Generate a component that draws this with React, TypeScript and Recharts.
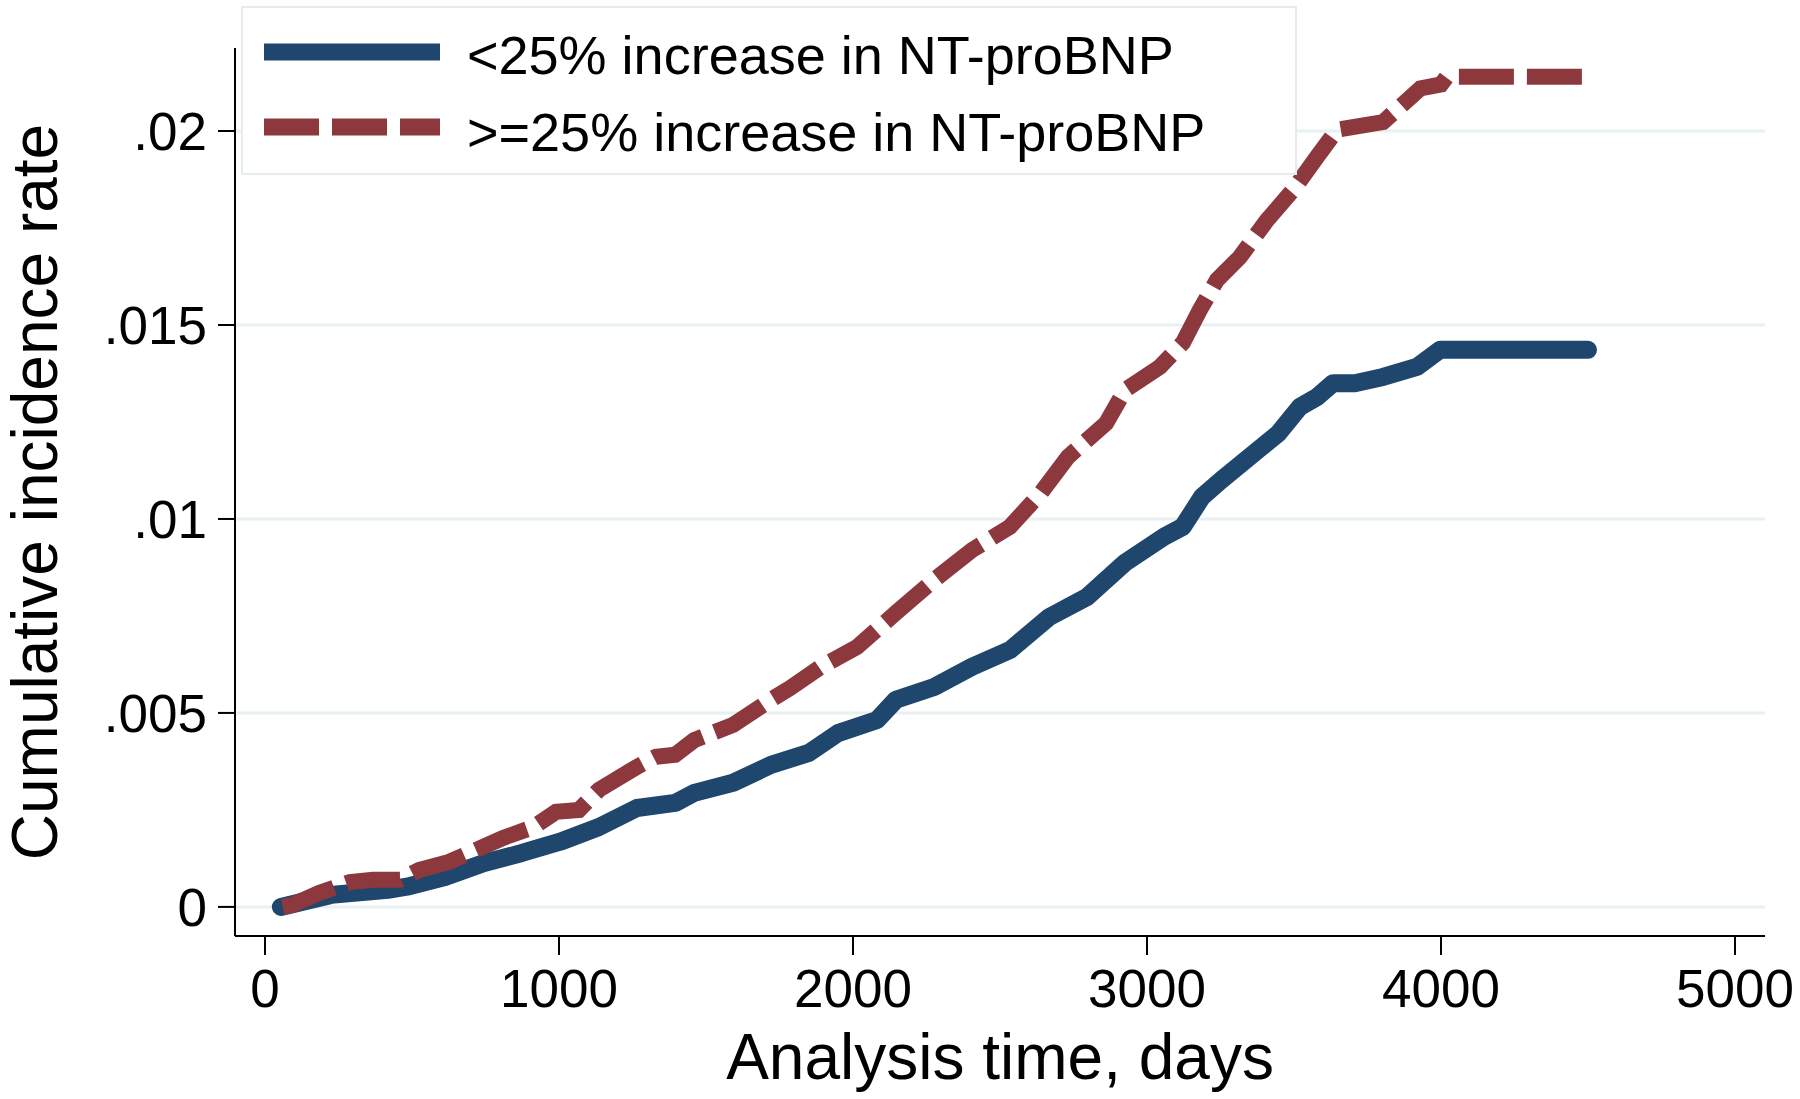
import React from 'react';
import { LineChart, Line, XAxis, YAxis, ReferenceLine } from 'recharts';

// <25% increase in NT-proBNP
const lowDays = [54, 225, 418, 483, 612, 745, 874, 1004, 1136, 1265, 1395, 1460, 1592, 1721, 1850, 1949, 2082, 2146, 2276, 2405, 2534, 2667, 2796, 2925, 3058, 3122, 3187, 3252, 3381, 3446, 3520, 3578, 3633, 3707, 3803, 3918, 3997, 4500];
const lowRate = [0, 0.00031, 0.00044, 0.00052, 0.00077, 0.00113, 0.00139, 0.00168, 0.00206, 0.00255, 0.00268, 0.00294, 0.0032, 0.00366, 0.00397, 0.00448, 0.00482, 0.00534, 0.00567, 0.00619, 0.00662, 0.00747, 0.00799, 0.00887, 0.00954, 0.0098, 0.01057, 0.011, 0.0118, 0.0122, 0.01289, 0.01314, 0.0135, 0.0135, 0.01366, 0.01392, 0.01436, 0.01436];

// >=25% increase in NT-proBNP
const highDays = [60, 92, 184, 289, 367, 459, 524, 626, 704, 810, 914, 990, 1068, 1136, 1265, 1330, 1395, 1460, 1592, 1721, 1786, 1891, 2014, 2146, 2276, 2405, 2534, 2639, 2731, 2861, 2925, 3044, 3122, 3180, 3238, 3316, 3408, 3497, 3578, 3646, 3803, 3930, 4000, 4020, 4500];
const highRate = [0, 0.00005, 0.00036, 0.00064, 0.0007, 0.0007, 0.00095, 0.00116, 0.00142, 0.00178, 0.00206, 0.00245, 0.0025, 0.00302, 0.00361, 0.00387, 0.00392, 0.0043, 0.00469, 0.00534, 0.00564, 0.00619, 0.0067, 0.00758, 0.00843, 0.0092, 0.0098, 0.01067, 0.0116, 0.01247, 0.01332, 0.01392, 0.01454, 0.01539, 0.01616, 0.01675, 0.0177, 0.01848, 0.01933, 0.02003, 0.02023, 0.0211, 0.0212, 0.0214, 0.0214];

const xTicks = [0, 1000, 2000, 3000, 4000, 5000];
const yTicks = [0, 0.005, 0.01, 0.015, 0.02];
const yTickLabels = ['0', '.005', '.01', '.015', '.02'];

const seriesNames = ['<25% increase in NT-proBNP', '>=25% increase in NT-proBNP'];
const xTitle = 'Analysis time, days';
const yTitle = 'Cumulative incidence rate';

const lowData = lowDays.map((d, i) => ({ day: d, rate: lowRate[i] }));
const highData = highDays.map((d, i) => ({ day: d, rate: highRate[i] }));

const FONT = '"Liberation Sans", Arial, Helvetica, sans-serif';
const BLUE = '#1F466C';
const RED = '#8C383C';

const XTitle = (props: any) => {
  const vb = props.viewBox || { x: 235, y: 936, width: 1530, height: 163 };
  return (
    <text x={vb.x + vb.width / 2} y={vb.y + 143} textAnchor="middle" fontSize={64} fontFamily={FONT} fill="#000">
      {xTitle}
    </text>
  );
};

const YTitle = (props: any) => {
  const vb = props.viewBox || { x: 0, y: 48, width: 235, height: 888 };
  const cy = vb.y + vb.height / 2;
  return (
    <text transform={`translate(57, ${cy}) rotate(-90)`} textAnchor="middle" fontSize={64} fontFamily={FONT} fill="#000">
      {yTitle}
    </text>
  );
};

const LegendBox = () => (
  <svg width={1056} height={169} style={{ position: 'absolute', left: 241, top: 6 }}>
    <rect x={1} y={1} width={1054} height={167} fill="#fff" stroke="#E4ECEE" strokeWidth={2} />
    <line x1={23} x2={199} y1={46} y2={46} stroke={BLUE} strokeWidth={17} />
    <text x={226} y={68} fontSize={54} fontFamily={FONT} fill="#000">{seriesNames[0]}</text>
    <line x1={23} x2={199} y1={121} y2={121} stroke={RED} strokeWidth={17} strokeDasharray="55 13" />
    <text x={226} y={145} fontSize={54} fontFamily={FONT} fill="#000">{seriesNames[1]}</text>
  </svg>
);

export default function App() {
  return (
    <div style={{ position: 'absolute', left: 0, top: 0, width: 1800, height: 1099, background: '#fff' }}>
      <LineChart width={1800} height={1099} margin={{ top: 48, right: 35, bottom: 0, left: 0 }}>
        <XAxis
          type="number"
          dataKey="day"
          domain={[-102, 5102]}
          ticks={xTicks}
          allowDataOverflow
          height={163}
          axisLine={{ stroke: '#000', strokeWidth: 2 }}
          tickLine={{ stroke: '#000', strokeWidth: 2 }}
          tickSize={19}
          tickMargin={14}
          tick={{ fill: '#000', fontSize: 53, fontFamily: FONT }}
          label={{ content: XTitle }}
        />
        <YAxis
          type="number"
          dataKey="rate"
          domain={[-0.00075, 0.02214]}
          ticks={yTicks}
          allowDataOverflow
          width={235}
          axisLine={{ stroke: '#000', strokeWidth: 2 }}
          tickLine={{ stroke: '#000', strokeWidth: 2 }}
          tickSize={17}
          tickMargin={11}
          tick={{ fill: '#000', fontSize: 53, fontFamily: FONT }}
          tickFormatter={(v: number) => yTickLabels[yTicks.indexOf(v)] ?? String(v)}
          label={{ content: YTitle }}
        />
        {yTicks.map((t) => (
          <ReferenceLine key={t} y={t} stroke="#E8F0F2" strokeWidth={3} />
        ))}
        <Line
          data={lowData}
          dataKey="rate"
          type="linear"
          stroke={BLUE}
          strokeWidth={18}
          strokeLinecap="round"
          strokeLinejoin="round"
          dot={false}
          activeDot={false}
          isAnimationActive={false}
        />
        <Line
          data={highData}
          dataKey="rate"
          type="linear"
          stroke={RED}
          strokeWidth={16}
          strokeDasharray="55 13"
          dot={false}
          activeDot={false}
          isAnimationActive={false}
        />
      </LineChart>
      <LegendBox />
    </div>
  );
}
